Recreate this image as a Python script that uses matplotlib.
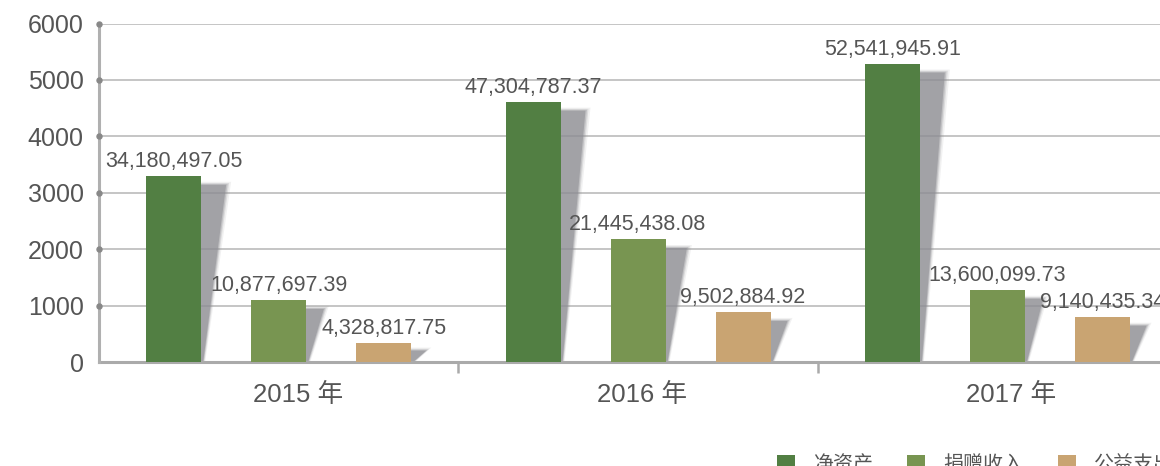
import numpy as np
import matplotlib
matplotlib.use("Agg")
import matplotlib.pyplot as plt
import matplotlib.transforms as mtransforms
from matplotlib.patches import Polygon

plt.rcParams['font.family'] = ['Liberation Sans', 'Noto Sans CJK SC', 'DejaVu Sans']

years = ["2015 年", "2016 年", "2017 年"]
series = ["净资产", "捐赠收入", "公益支出"]
# bar heights (axis units)
net_assets = [3300, 4615, 5290]
donations = [1100, 2180, 1280]
welfare = [337, 887, 803]
# printed labels
net_labels = ["34,180,497.05", "47,304,787.37", "52,541,945.91"]
don_labels = ["10,877,697.39", "21,445,438.08", "13,600,099.73"]
wel_labels = ["4,328,817.75", "9,502,884.92", "9,140,435.34"]
colors = ["#527f43", "#789551", "#c9a472"]

W, H = 1160, 466
fig = plt.figure(figsize=(W / 100, H / 100), dpi=100)
ax_l, ax_r, ax_t, ax_b = 99, 1177, 23.5, 362
ax = fig.add_axes([ax_l / W, (H - ax_b) / H, (ax_r - ax_l) / W, (ax_b - ax_t) / H])
ax.set_xlim(-0.5, 2.5)
ax.set_ylim(0, 6000)

xpx = 3.0 / (ax_r - ax_l)
ypx = 6000.0 / (ax_b - ax_t)

x = np.arange(len(years))
width = 55 * xpx
step = 105 * xpx
data = [net_assets, donations, welfare]
labels = [net_labels, don_labels, wel_labels]

handles = []
for i, (vals, labs) in enumerate(zip(data, labels)):
    xs = x + (i - 1) * step
    # soft skewed shadows behind bars
    for xc, v in zip(xs, vals):
        hpx = v / ypx
        dx = min(25, 14 + 0.06 * hpx) * xpx
        drop = min(9, 0.4 * hpx) * ypx
        xl, xr = xc - width / 2, xc + width / 2
        for grow, alpha in [(5, 0.12), (3, 0.22), (1.5, 0.35), (0, 0.6)]:
            g = grow * xpx
            top = v - drop + grow * ypx * 0.6
            pts = [(xl + 2 * xpx, 0), (xr + 2 * xpx + g * 0.4, 0),
                   (xr + dx + g, top), (xl + dx, top)]
            ax.add_patch(Polygon(pts, closed=True, facecolor="#8e8e94",
                                 edgecolor="none", alpha=alpha, zorder=2))
    b = ax.bar(xs, vals, width=width, color=colors[i], zorder=3, label=series[i])
    handles.append(b)
    for xc, v, t in zip(xs, vals, labs):
        ax.annotate(t, (xc, v), xytext=(0, 6.5), textcoords="offset points",
                    ha="center", va="baseline", fontsize=15.5, color="#555555",
                    annotation_clip=False, zorder=5)

# axes styling
for s in ["top", "right"]:
    ax.spines[s].set_visible(False)
ax.spines["left"].set_color("#b0b0b0")
ax.spines["left"].set_linewidth(2.2)
ax.spines["bottom"].set_color("#aaaaaa")
ax.spines["bottom"].set_linewidth(2.2)
ax.spines["left"].set_zorder(4)

yt = [0, 1000, 2000, 3000, 4000, 5000, 6000]
ax.set_yticks(yt)
ax.set_yticklabels([str(v) for v in yt])
ax.tick_params(axis="y", length=0, pad=11, labelsize=18, labelcolor="#555555")
for v in yt[1:]:
    ax.axhline(v, color="#b5b5b5", linewidth=1.1, zorder=1)
ax.plot([-0.5] * (len(yt) - 1), yt[1:], "o", color="#888888", markersize=3.6,
        clip_on=False, zorder=6)

ax.set_xticks(x)
ax.set_xticklabels(years)
ax.tick_params(axis="x", length=0, pad=15, labelsize=18.5, labelcolor="#555555")
# reference labels sit a little right of the category centres
for lab, off in zip(ax.get_xticklabels(), [19, 4, 14]):
    lab.set_transform(lab.get_transform() +
                      mtransforms.ScaledTranslation(off / 100, 0, fig.dpi_scale_trans))
ax.set_xticks([0.5, 1.5], minor=True)
ax.tick_params(axis="x", which="minor", length=8, width=1.8, color="#aaaaaa")

leg = ax.legend(handles=handles, loc="upper left", ncol=3, frameon=False,
                bbox_to_anchor=(776.5 / W, (H - 454) / H), bbox_transform=fig.transFigure,
                handlelength=0.9, handleheight=0.9, handletextpad=0.93,
                columnspacing=1.7, borderpad=0, borderaxespad=0,
                prop={"family": ["Noto Sans CJK SC"], "size": 14.4})
for t in leg.get_texts():
    t.set_color("#555555")

fig.savefig("out.png", dpi=100)
